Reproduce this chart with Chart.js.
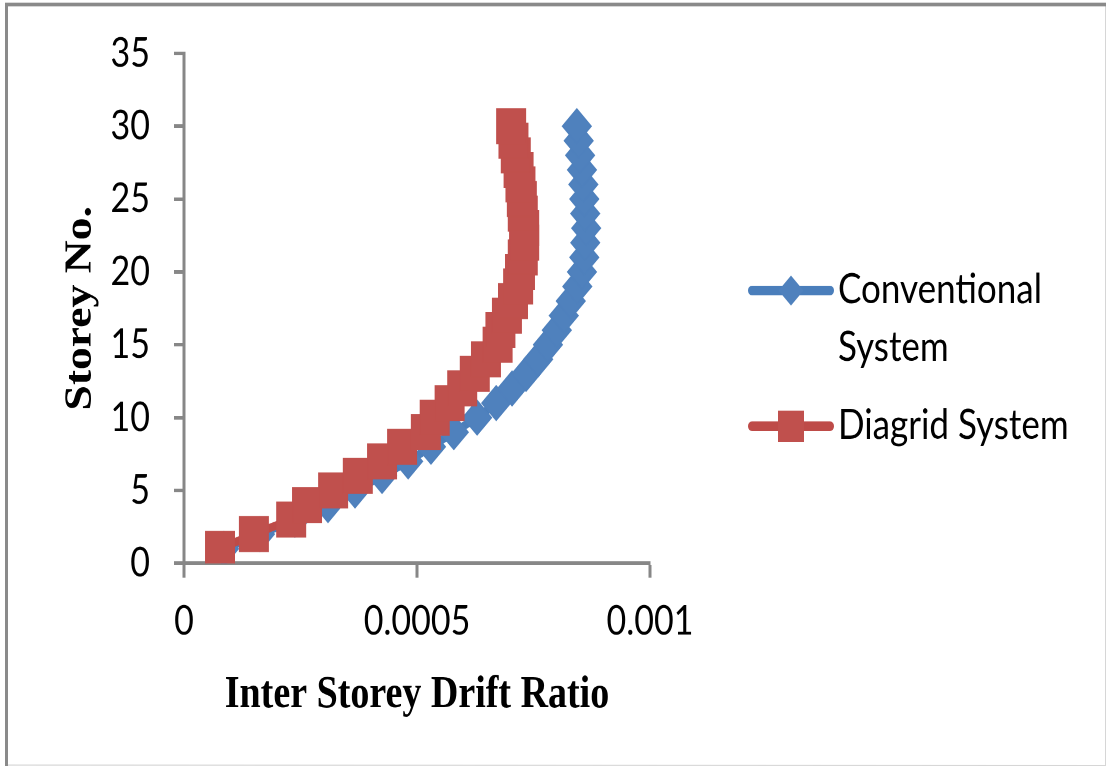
<!DOCTYPE html>
<html>
<head>
<meta charset="utf-8">
<title>Inter Storey Drift Ratio</title>
<script src="https://cdn.jsdelivr.net/npm/chart.js@4.4.1/dist/chart.umd.min.js"></script>
<style>
  html, body { margin: 0; padding: 0; background: #ffffff; overflow: hidden; }
  #wrap { width: 1106px; height: 766px; overflow: hidden; }
  /* the chart is laid out at 1106x638 and stretched vertically to fill the frame */
  #c { display: block; width: 1106px; height: 638px; transform: scaleY(1.2006); transform-origin: 0 0; }
</style>
</head>
<body>
<div id="wrap"><canvas id="c" width="1106" height="638"></canvas></div>
<script>
// ---- data ----
const storeys = [1, 2, 3, 4, 5, 6, 7, 8, 9, 10, 11, 12, 13, 14, 15,
                 16, 17, 18, 19, 20, 21, 22, 23, 24, 25, 26, 27, 28, 29, 30];

const conventional = [0.0000858, 0.000163, 0.000238, 0.000309, 0.000367, 0.000425,
                      0.000481, 0.000530, 0.000579, 0.000629, 0.000670, 0.000704,
                      0.000734, 0.000760, 0.000781, 0.000800, 0.000815, 0.000830,
                      0.000844, 0.000854, 0.000859, 0.000861, 0.000863, 0.000861,
                      0.000859, 0.000857, 0.000854, 0.000850, 0.000847, 0.000843];

const diagrid = [0.0000773, 0.000150, 0.000230, 0.000264, 0.000320, 0.000373,
                 0.000425, 0.000468, 0.000519, 0.000538, 0.000570, 0.000597,
                 0.000624, 0.000648, 0.000673, 0.000679, 0.000693, 0.000706,
                 0.000717, 0.000721, 0.000727, 0.000730, 0.000730, 0.000727,
                 0.000725, 0.000722, 0.000718, 0.000712, 0.000707, 0.000702];

const seriesNames = ['Conventional System', 'Diagrid System'];
const xTicks = [0, 0.0005, 0.001];
const xTickLabels = ['0', '0.0005', '0.001'];
const yTicks = [0, 5, 10, 15, 20, 25, 30, 35];
const xTitle = 'Inter Storey Drift Ratio';
const yTitle = 'Storey No.';

// ---- styling ----
const W = 1106, H = 638;
const AXIS_GREY = '#878787';
const BLUE = '#4F81BD', BLUE_LINE = '#4A7EBB';
const RED = '#C0504D', RED_LINE = '#BE4B48';
const SANS = 'Lato, "Open Sans", sans-serif';
const SERIF = '"Liberation Serif", "Times New Roman", serif';
const PLOT_LEFT = 184, PLOT_RIGHT = 650, PLOT_TOP = 43.3, PLOT_BOTTOM = 469.2;

function toPoints(values) {
  return storeys.map((s, i) => ({ x: values[i], y: s }));
}

// white page with the picture frame
const framePlugin = {
  id: 'frame',
  beforeDraw(chart) {
    const ctx = chart.ctx;
    ctx.save();
    ctx.fillStyle = '#ffffff';
    ctx.fillRect(0, 0, W, H);
    ctx.strokeStyle = '#d6d6d6';
    ctx.lineWidth = 1;
    ctx.beginPath();
    ctx.moveTo(1105.5, 4); ctx.lineTo(1105.5, H - 0.5);
    ctx.lineTo(6, H - 0.8);
    ctx.stroke();
    ctx.strokeStyle = '#8a8a8a';
    ctx.lineWidth = 3;
    ctx.beginPath();
    ctx.moveTo(6.5, H); ctx.lineTo(6.5, 3.7); ctx.lineTo(1106, 3.7);
    ctx.stroke();
    ctx.restore();
  }
};

// legend on the right: line segment with its marker, wrapped series name
const sideLegend = {
  id: 'sideLegend',
  afterDraw(chart) {
    const ctx = chart.ctx;
    const lineX0 = 752, lineX1 = 830, markX = 791, textX = 838;
    const rowH = 48, entryGap = 17, maxTextW = 265;
    let y = 242;
    ctx.save();
    ctx.font = '35px ' + SANS;
    ctx.textBaseline = 'alphabetic';
    ctx.textAlign = 'left';
    chart.data.datasets.forEach((ds) => {
      // wrap the name
      const words = ds.label.split(' ');
      const lines = [];
      let cur = '';
      words.forEach(w => {
        const test = cur ? cur + ' ' + w : w;
        if (cur && ctx.measureText(test).width > maxTextW) { lines.push(cur); cur = w; }
        else cur = test;
      });
      if (cur) lines.push(cur);

      ctx.strokeStyle = ds.borderColor;
      ctx.lineWidth = 8;
      ctx.lineCap = 'round';
      ctx.beginPath();
      ctx.moveTo(lineX0, y); ctx.lineTo(lineX1, y);
      ctx.stroke();

      ctx.fillStyle = ds.pointBackgroundColor;
      ctx.beginPath();
      if (ds.pointStyle === 'rectRot') {
        const r = 12.5;
        ctx.moveTo(markX - r, y); ctx.lineTo(markX, y - r);
        ctx.lineTo(markX + r, y); ctx.lineTo(markX, y + r);
        ctx.closePath();
      } else {
        const h = 13;
        ctx.rect(markX - h, y - h, 2 * h, 2 * h);
      }
      ctx.fill();

      ctx.fillStyle = '#000000';
      lines.forEach((ln, k) => ctx.fillText(ln, textX, y + 10.5 + k * rowH));
      y += lines.length * rowH + entryGap;
    });
    ctx.restore();
  }
};

new Chart(document.getElementById('c'), {
  type: 'scatter',
  data: {
    datasets: [
      {
        label: seriesNames[0],
        data: toPoints(conventional),
        showLine: true,
        borderColor: BLUE_LINE,
        borderWidth: 7,
        pointStyle: 'rectRot',
        pointRadius: 14.5,
        pointBackgroundColor: BLUE,
        pointBorderColor: BLUE,
        pointBorderWidth: 1,
        order: 2
      },
      {
        label: seriesNames[1],
        data: toPoints(diagrid),
        showLine: true,
        borderColor: RED_LINE,
        borderWidth: 7,
        pointStyle: 'rect',
        pointRadius: 20.5,
        pointBackgroundColor: RED,
        pointBorderColor: RED,
        pointBorderWidth: 1,
        order: 1
      }
    ]
  },
  options: {
    responsive: false,
    devicePixelRatio: 2,
    animation: false,
    events: [],
    layout: { padding: { left: 0, top: PLOT_TOP, right: W - PLOT_RIGHT, bottom: 0 } },
    plugins: {
      legend: { display: false },
      tooltip: { enabled: false },
      title: { display: false }
    },
    scales: {
      x: {
        type: 'linear',
        min: xTicks[0],
        max: xTicks[xTicks.length - 1],
        afterBuildTicks: (s) => { s.ticks = xTicks.map(v => ({ value: v })); },
        afterFit: (s) => { s.height = H - PLOT_BOTTOM; },
        ticks: {
          callback: (v, i) => xTickLabels[i],
          color: '#000000',
          font: { family: SANS, size: 34 },
          padding: 16,
          maxRotation: 0,
          autoSkip: false
        },
        grid: { drawOnChartArea: false, drawTicks: true, tickLength: 12, tickWidth: 3, tickColor: AXIS_GREY },
        border: { display: true, color: AXIS_GREY, width: 3 },
        title: {
          display: true,
          text: xTitle,
          color: '#000000',
          font: { family: SERIF, size: 38, weight: 'bold' },
          padding: { top: 0, bottom: 36 }
        }
      },
      y: {
        type: 'linear',
        min: yTicks[0],
        max: yTicks[yTicks.length - 1],
        afterBuildTicks: (s) => { s.ticks = yTicks.map(v => ({ value: v })); },
        afterFit: (s) => { s.width = PLOT_LEFT; },
        ticks: {
          color: '#000000',
          font: { family: SANS, size: 34 },
          padding: 24
        },
        grid: { drawOnChartArea: false, drawTicks: true, tickLength: 10, tickWidth: 3, tickColor: AXIS_GREY },
        border: { display: true, color: AXIS_GREY, width: 3 },
        title: {
          display: true,
          text: yTitle,
          color: '#000000',
          font: { family: SERIF, size: 38, weight: 'bold' },
          padding: { top: 58, bottom: 0 }
        }
      }
    }
  },
  plugins: [framePlugin, sideLegend]
});
</script>
</body>
</html>
